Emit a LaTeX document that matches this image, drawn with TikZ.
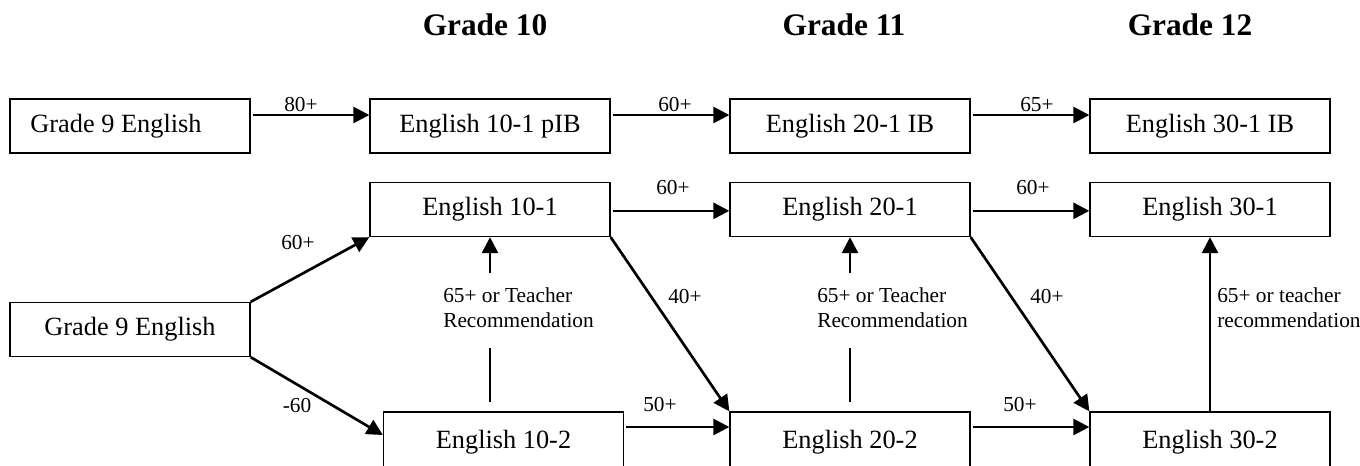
\documentclass[tikz,border=0pt]{standalone}
\usepackage{fontspec}
\setmainfont{Liberation Serif}
\usetikzlibrary{arrows.meta}

\begin{document}
\begin{tikzpicture}[x=0.75pt, y=-0.75pt]
\tikzset{cours/.style={draw, line width=1pt, minimum width=180pt, minimum height=40.5pt, inner sep=0pt, font=\fontsize{19.75}{23}\selectfont}}
\tikzset{coursbas/.style={cours, minimum height=45pt}}
\tikzset{fleche/.style={line width=2pt, -{Triangle[length=12pt, width=12pt]}}}
\tikzset{trait/.style={line width=2pt}}
\tikzset{note/.style={inner sep=0pt, font=\fontsize{16}{18.75}\selectfont}}
\tikzset{titre/.style={font=\fontsize{23.5}{28}\selectfont\bfseries}}
\clip (0, 0) rectangle (1360, 465);
% grade headers
\node[titre] (T10) at (485, 25) {Grade 10};
\node[titre] (T11) at (844, 25) {Grade 11};
\node[titre] (T12) at (1190, 25) {Grade 12};
% IB stream
\node[cours] (G9a) at (130, 126) {Grade 9 English\hspace*{21pt}};
\node[cours] (E10a) at (490, 126) {English 10-1 pIB};
\node[cours] (E20a) at (850, 126) {English 20-1 IB};
\node[cours] (E30a) at (1210, 126) {English 30-1 IB};
% -1 and -2 streams
\node[cours] (E10b) at (490, 209.5) {English 10-1};
\node[cours] (E20b) at (850, 209.5) {English 20-1};
\node[cours] (E30b) at (1210, 209.5) {English 30-1};
\node[cours] (G9b) at (130, 329.5) {Grade 9 English};
\node[coursbas] (E10c) at (503.5, 442) {\raisebox{2.25pt}{English 10-2}};
\node[coursbas] (E20c) at (850, 442) {\raisebox{2.25pt}{English 20-2}};
\node[coursbas] (E30c) at (1210, 442) {\raisebox{2.25pt}{English 30-2}};
% marks
\node[note] (L1) at (301, 105) {80+};
\node[note] (L2) at (675, 105) {60+};
\node[note] (L3) at (1037, 105) {65+};
\node[note] (L4) at (673, 188) {60+};
\node[note] (L5) at (1033, 188) {60+};
\node[note] (L6) at (298, 243) {60+};
\node[note] (L7) at (297, 406) {-60};
\node[note] (L8) at (685, 297) {40+};
\node[note] (L9) at (1047, 297) {40+};
\node[note] (L10) at (660, 405) {50+};
\node[note] (L11) at (1020, 405) {50+};
\node[note, align=left, anchor=west] (R1) at (443, 307.5) {65+ or Teacher\\Recommendation};
\node[note, align=left, anchor=west] (R2) at (817, 307.5) {65+ or Teacher\\Recommendation};
\node[note, align=left, anchor=west] (R3) at (1217, 307.5) {65+ or teacher\\recommendation};
% arrows
\draw[fleche, shorten <=1.5pt] ([yshift=8.25pt]G9a.east) -- ([yshift=8.25pt]E10a.west);
\draw[fleche, shorten <=1.5pt] ([yshift=8.25pt]E10a.east) -- ([yshift=8.25pt]E20a.west);
\draw[fleche, shorten <=1.5pt] ([yshift=8.25pt]E20a.east) -- ([yshift=8.25pt]E30a.west);
\draw[fleche, shorten <=1.5pt] ([yshift=-1pt]E10b.east) -- ([yshift=-1pt]E20b.west);
\draw[fleche, shorten <=1.5pt] ([yshift=-1pt]E20b.east) -- ([yshift=-1pt]E30b.west);
\draw[fleche] (G9b.north east) -- (E10b.south west);
\draw[fleche] (G9b.south east) -- ([yshift=5.25pt]E10c.west);
\draw[fleche] (E10b.south east) -- (E20c.north west);
\draw[fleche] (E20b.south east) -- (E30c.north west);
\draw[fleche, shorten <=1.5pt] ([yshift=11.25pt]E10c.east) -- ([yshift=11.25pt]E20c.west);
\draw[fleche, shorten <=1.5pt] ([yshift=11.25pt]E20c.east) -- ([yshift=11.25pt]E30c.west);
\draw[fleche, shorten <=10.8pt] (R1.north -| E10b.south) -- (E10b.south);
\draw[trait, shorten <=6.75pt, shorten >=15pt] (E10c.north -| E10b.south) -- (R1.south -| E10b.south);
\draw[fleche, shorten <=10.8pt] (R2.north -| E20b.south) -- (E20b.south);
\draw[trait, shorten <=6.75pt, shorten >=15pt] (E20c.north -| E20b.south) -- (R2.south -| E20b.south);
\draw[fleche] (E30c.north) -- (E30b.south);
\end{tikzpicture}
\end{document}
